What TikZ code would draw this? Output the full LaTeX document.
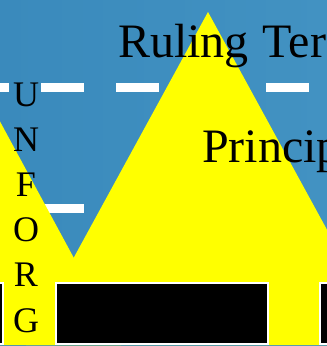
\documentclass[tikz,border=0pt]{standalone}
\usepackage{fontspec}
\setmainfont{Liberation Serif}
\definecolor{skyblue}{RGB}{58,138,188}
\definecolor{skybluelight}{RGB}{66,146,194}
\definecolor{peakyellow}{RGB}{255,255,0}
\tikzset{
  title/.style={anchor=base west, inner sep=0pt, font=\fontsize{48}{58}\selectfont},
  letter/.style={anchor=base, inner sep=0pt, font=\fontsize{36}{43}\selectfont},
  roadline/.style={white, line width=9pt, dash pattern=on 43pt off 32pt, dash phase=34pt},
  plinth/.style={fill=black, draw=white, line width=1.5pt}
}
\begin{document}
\begin{tikzpicture}[x=1pt, y=-1pt]
  \useasboundingbox (0,0) rectangle (327,346);
  \clip (0,0) rectangle (327,346);

  % -- Sky --
  \shade[left color=skyblue, right color=skybluelight] (0,0) rectangle (327,346);

  % -- Dashed lines --
  \draw[roadline] (0,87) -- (327,87);
  \draw[roadline] (0,208) -- (200,208);

  % -- Mountains --
  \begin{scope}
    \clip (0,0) rectangle (327,345);
    \fill[peakyellow] (-120,345) -- (-10,103) -- (121,345) -- cycle;
    \fill[peakyellow] (26,345) -- (208,12) -- (390,345) -- cycle;
  \end{scope}

  % -- Black blocks --
  \draw[plinth] (-20,283) rectangle (3,344);
  \draw[plinth] (56,283) rectangle (268,344);
  \draw[plinth] (320,283) rectangle (345,344);

  % -- Titles --
  \node[title] (ruling) at (118,57) {Ruling\hspace{14pt}Ter};
  \node[title] (princ) at (202,162) {Princip};

  % -- Vertical word --
  \foreach \ch [count=\i from 0] in {U,N,F,O,R,G}
    \node[letter] (ltr\i) at (26,106+45.2*\i) {\ch};

\end{tikzpicture}
\end{document}
